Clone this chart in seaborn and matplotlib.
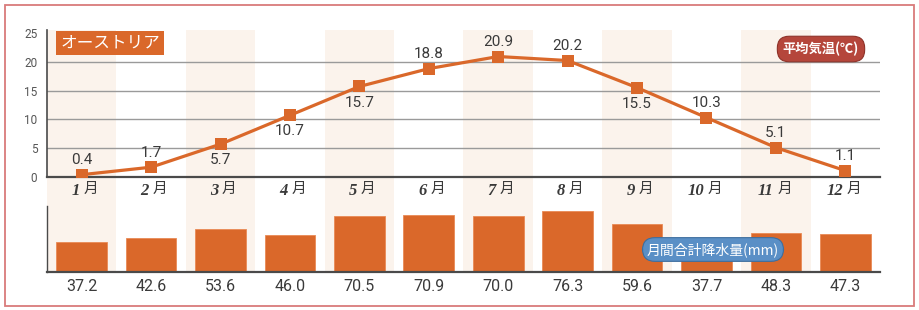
import numpy as np
import pandas as pd
import matplotlib
matplotlib.use("Agg")
import matplotlib.pyplot as plt
import seaborn as sns
from matplotlib.patches import Rectangle

# ---- data ----
months = ["1", "2", "3", "4", "5", "6", "7", "8", "9", "10", "11", "12"]
month_suffix = "月"
temperature = [0.4, 1.7, 5.7, 10.7, 15.7, 18.8, 20.9, 20.2, 15.5, 10.3, 5.1, 1.1]
temp_label_above = [True, True, False, False, False, True, True, True, False, True, True, True]
precipitation = [37.2, 42.6, 53.6, 46.0, 70.5, 70.9, 70.0, 76.3, 59.6, 37.7, 48.3, 47.3]
country = "オーストリア"
temp_title = "平均気温(℃)"
prec_title = "月間合計降水量(mm)"
temp_yticks = [0, 5, 10, 15, 20, 25]

ORANGE = "#DA682A"
SHADE = "#FBF3EC"
DARK = "#4a4a4a"

sns.set_theme(style="white")
plt.rcParams["font.family"] = ["Roboto", "Noto Sans CJK JP", "DejaVu Sans"]

df = pd.DataFrame({"idx": np.arange(len(months)), "month": months,
                   "temp": temperature, "prec": precipitation})

fig = plt.figure(figsize=(9.2, 3.1), dpi=100)
L, R = 47 / 920, 880 / 920
def fy(px):
    return (310 - px) / 310

# background shading axes
bg = fig.add_axes([L, fy(272), R - L, fy(30) - fy(272)], zorder=0)
bg.set_xlim(-0.5, len(months) - 0.5)
bg.set_ylim(0, 1)
for i in range(0, len(months), 2):
    bg.axvspan(i - 0.5, i + 0.5, color=SHADE, lw=0)
bg.axis("off")

# ---- top: temperature ----
ax = fig.add_axes([L, fy(177), R - L, fy(30) - fy(177)], zorder=2)
ax.set_facecolor("none")
sns.lineplot(data=df, x="idx", y="temp", ax=ax, color=ORANGE, lw=2.3,
             marker="s", markersize=8.8, markeredgewidth=0, zorder=4)
ax.set_xlim(-0.5, len(months) - 0.5)
ax.set_ylim(0, 25.5)
ax.set_yticks(temp_yticks)
ax.set_yticklabels([str(v) for v in temp_yticks], fontsize=8.5, color="#555555")
ax.tick_params(axis="y", length=0, pad=7)
ax.set_xticks(df["idx"])
ax.set_xticks(df["idx"][:-1] + 0.5, minor=True)
ax.set_xticklabels([m for m in months])
ax.tick_params(axis="x", which="major", length=0, labelbottom=False)
ax.tick_params(axis="x", which="minor", length=4, width=1.2, direction="in", color=DARK)
ax.set_xlabel("")
ax.set_ylabel("")
ax.grid(axis="y", color="#9a9a9a", lw=1)
ax.grid(axis="x", visible=False)
for gl, v in zip(ax.get_ygridlines(), temp_yticks):
    if v in (0, 25):
        gl.set_visible(False)
for s in ["top", "right"]:
    ax.spines[s].set_visible(False)
ax.spines["left"].set_color(DARK)
ax.spines["left"].set_linewidth(1.2)
ax.spines["bottom"].set_color(DARK)
ax.spines["bottom"].set_linewidth(1.6)

for i, (t, above) in enumerate(zip(temperature, temp_label_above)):
    ax.annotate(f"{t:.1f}", (i, t), xytext=(0, 5.5 if above else -6.5),
                textcoords="offset points", ha="center",
                va="bottom" if above else "top", fontsize=11, color="#3a3a3a",
                zorder=6)

# month labels (italic serif digits + 月)
for i, m in enumerate(months):
    ax.annotate(m, (i, 0), xycoords=("data", "axes fraction"),
                xytext=(-1.5, -4), textcoords="offset points", ha="right", va="top",
                fontsize=12, style="italic", fontweight="semibold",
                family=["Liberation Serif"], color="#3a3a3a")
    ax.annotate(month_suffix, (i, 0), xycoords=("data", "axes fraction"),
                xytext=(1.0, -3.5), textcoords="offset points", ha="left", va="top",
                fontsize=10.5, family=["Noto Sans CJK JP"], color="#3a3a3a")

# country label
fig.text(110 / 920, fy(43), country, ha="center", va="center", fontsize=12,
         color="white", family=["Noto Sans CJK JP"],
         bbox=dict(boxstyle="square,pad=0.22", fc=ORANGE, ec="none"), zorder=10)
# temperature pill
fig.text(821 / 920, fy(49), temp_title, ha="center", va="center", fontsize=9.5,
         color="white", family=["Noto Sans CJK JP", "DejaVu Sans"], fontweight="bold",
         bbox=dict(boxstyle="round,pad=0.42,rounding_size=0.9", fc="#B5463B",
                   ec="#8E3229", lw=0.8), zorder=10)

# ---- bottom: precipitation ----
bx = fig.add_axes([L, fy(272), R - L, fy(206) - fy(272)], zorder=1)
bx.set_facecolor("none")
sns.barplot(data=df, x="month", y="prec", ax=bx, color=ORANGE, width=0.73,
            saturation=1, edgecolor="#E98A55", linewidth=0.6, order=months)
bx.set_xlim(-0.5, len(months) - 0.5)
bx.set_ylim(0, 82.5)
bx.set_yticks([])
bx.set_xticks(range(len(months)))
bx.set_xticklabels([f"{p:.1f}" for p in precipitation], fontsize=11.5, color="#3a3a3a")
bx.tick_params(axis="x", length=0, pad=5)
bx.set_xlabel("")
bx.set_ylabel("")
for s in ["top", "right"]:
    bx.spines[s].set_visible(False)
bx.spines["left"].set_color(DARK)
bx.spines["left"].set_linewidth(1.0)
bx.spines["bottom"].set_color(DARK)
bx.spines["bottom"].set_linewidth(1.6)

fig.text(713 / 920, fy(249.5), prec_title, ha="center", va="center", fontsize=10,
         color="white", family=["Noto Sans CJK JP", "DejaVu Sans"],
         bbox=dict(boxstyle="round,pad=0.32,rounding_size=0.9", fc="#5A8FC6",
                   ec="#3E6E9E", lw=0.8), zorder=10)

# outer frame
fig.patches.append(Rectangle((5 / 920, fy(306)), 909 / 920, fy(5) - fy(306),
                             transform=fig.transFigure, fill=False,
                             ec="#D97B7B", lw=1.3, zorder=0))

fig.savefig("out.png", dpi=100)
